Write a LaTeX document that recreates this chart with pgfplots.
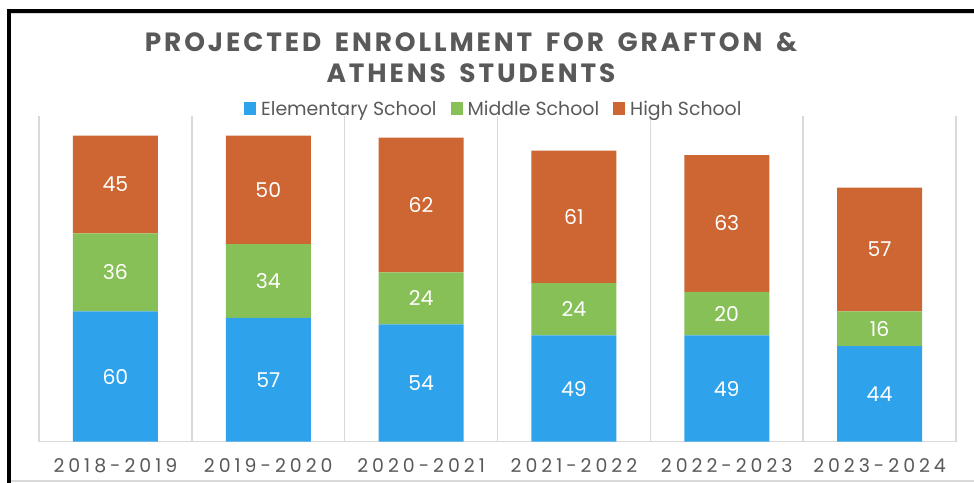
\documentclass[border=0pt]{standalone}
\usepackage{pgfplots}
\pgfplotsset{compat=1.18}
\usepackage{fontspec}
\setmainfont{Poppins}
\newfontfamily\titlefont[LetterSpace=11,WordSpace=1.6]{Poppins}
\newfontfamily\tickfont[LetterSpace=21]{Poppins}
\definecolor{elem}{RGB}{46,163,236}
\definecolor{mid}{RGB}{136,192,88}
\definecolor{high}{RGB}{205,102,51}
\definecolor{txt}{RGB}{89,89,89}
\definecolor{gridc}{RGB}{217,217,217}
\begin{document}
\begin{tikzpicture}
\useasboundingbox (0bp,0bp) rectangle (974bp,-483bp);
\draw[gridc, line width=1.5bp] (11bp,-481bp) -- (974bp,-481bp);
\draw[black, line width=4bp] (8.5bp,-8.5bp) -- (8.5bp,-483bp);
\draw[black, line width=4bp] (6.5bp,-10.5bp) -- (974bp,-10.5bp);
\draw[gridc, line width=1bp] (11bp,-13.5bp) -- (974bp,-13.5bp);
\node[font=\titlefont\bfseries\fontsize{26.5}{31}\selectfont, text=txt, align=center] at (471bp,-58bp) {PROJECTED ENROLLMENT FOR GRAFTON \&\\ATHENS STUDENTS};
\begin{axis}[
  at={(39bp,-441.7bp)}, anchor=south west,
  scale only axis, width=917bp, height=325.7bp,
  xmin=-0.5, xmax=5.5, ymin=0, ymax=150,
  ybar stacked, bar width=85bp,
  hide y axis,
  axis x line*=bottom,
  x axis line style={gridc, line width=1.5bp},
  xtick={0,...,5},
  xticklabels={2018-2019,2019-2020,2020-2021,2021-2022,2022-2023,2023-2024},
  major tick length=0pt,
  minor xtick={-0.5,0.5,1.5,2.5,3.5,4.5,5.5},
  minor tick length=0pt,
  xminorgrids, minor grid style={gridc, line width=1.5bp},
  xticklabel style={font=\tickfont\fontsize{19}{22}\selectfont, text=txt, anchor=base, yshift=-30.3bp},
  legend style={at={(0.496,1.0215)}, anchor=center, draw=none, fill=none,
    font=\fontsize{19}{22}\selectfont, text=txt,
    /tikz/every even column/.append style={column sep=12bp}},
  legend columns=3,
  legend image code/.code={\fill[#1] (0bp,-5.5bp) rectangle (12bp,6.5bp); \path (15bp,0bp);},
  point meta=explicit symbolic,
  nodes near coords,
  every node near coord/.append style={anchor=center, font=\fontsize{20.5}{22}\selectfont, text=white},
]
\addplot[fill=elem, draw=none] coordinates {(0,60)[60] (1,57)[57] (2,54)[54] (3,49)[49] (4,49)[49] (5,44)[44]};
\addplot[fill=mid, draw=none] coordinates {(0,36)[36] (1,34)[34] (2,24)[24] (3,24)[24] (4,20)[20] (5,16)[16]};
\addplot[fill=high, draw=none] coordinates {(0,45)[45] (1,50)[50] (2,62)[62] (3,61)[61] (4,63)[63] (5,57)[57]};
\legend{Elementary School, Middle School, High School}
\end{axis}
\end{tikzpicture}
\end{document}
